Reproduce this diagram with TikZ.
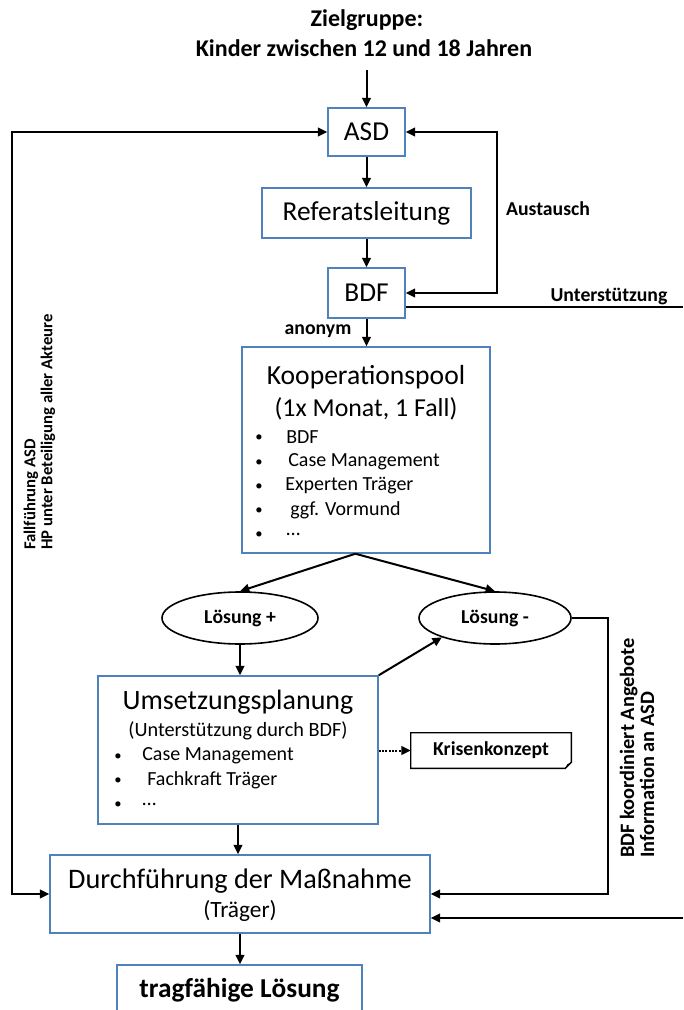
\documentclass[tikz,border=0pt]{standalone}
\usepackage{fontspec}
\setmainfont{Carlito}
\usetikzlibrary{arrows.meta,shapes.geometric}
\definecolor{boxblue}{RGB}{79,129,189}
\begin{document}
\begin{tikzpicture}[x=0.75pt,y=-0.75pt,
  box/.style={draw=boxblue, line width=1.1pt, inner sep=0pt, fill=white},
  ell/.style={ellipse, draw=black, line width=1.2pt, inner sep=0pt},
  tip/.tip={Triangle[length=7pt,width=6.5pt]},
  ln/.style={line width=1.5pt},
  arr/.style={ln, -tip},
  arrtwo/.style={ln, tip-tip},
  lbl/.style={font=\fontsize{14.8}{17}\selectfont\bfseries, inner sep=0pt},
  big/.style={font=\fontsize{20.5}{24}\selectfont},
  itm/.style={font=\fontsize{15}{18}\selectfont, anchor=west, inner sep=0pt},
  dot/.style={font=\fontsize{11}{13}\selectfont, inner sep=0pt},
  side/.style={rotate=90, anchor=west, align=left, inner sep=0pt}
]
\useasboundingbox (0,0) rectangle (683,1010);

% title
\node[font=\fontsize{18}{22}\selectfont\bfseries, inner sep=0pt] (t1) at (367,20) {Zielgruppe:};
\node[font=\fontsize{18}{22}\selectfont\bfseries, inner sep=0pt] (t2) at (364,48) {Kinder zwischen 12 und 18 Jahren};
\coordinate (tarr) at (366.5,70);

% main boxes
\node[box, big, minimum width=57.75pt, minimum height=36pt] (asd) at (366.5,132) {ASD};
\node[box, big, minimum width=156.75pt, minimum height=37.5pt] (ref) at (366.5,213) {Referatsleitung};
\node[box, big, minimum width=57.75pt, minimum height=37.5pt] (bdf) at (366.5,293) {BDF};

\node[box, minimum width=186pt, minimum height=154.5pt] (koop) at (366,450) {};
\node[inner sep=0pt, font=\fontsize{20.7}{24}\selectfont] (kt) at (366,377) {Kooperationspool};
\node[inner sep=0pt, font=\fontsize{19.4}{23}\selectfont] (ks) at (366,409) {(1x Monat, 1 Fall)};
\node[dot] (kb1d) at (259,438) {\textbullet};
\node[itm] (kb1) at (286,437) {BDF};
\node[dot] (kb2d) at (259,463) {\textbullet};
\node[itm] (kb2) at (288,462) {Case Management};
\node[dot] (kb3d) at (259,487) {\textbullet};
\node[itm] (kb3) at (285,486) {Experten Träger};
\node[dot] (kb4d) at (259,511) {\textbullet};
\node[itm] (kb4) at (290,510) {ggf. Vormund};
\node[dot] (kb5d) at (259,535) {\textbullet};
\node[itm] (kb5) at (286,534) {…};

\node[ell, lbl, minimum width=117pt, minimum height=39pt] (lp) at (240,618) {Lösung +};
\node[ell, lbl, minimum width=114pt, minimum height=39pt] (lm) at (495,618) {Lösung -};

\node[box, minimum width=210pt, minimum height=111pt] (ums) at (238,750) {};
\node[inner sep=0pt, font=\fontsize{21}{25}\selectfont] (ut) at (238,702) {Umsetzungsplanung};
\node[inner sep=0pt, font=\fontsize{15.2}{18}\selectfont] (us) at (238,731) {(Unterstützung durch BDF)};
\node[dot] (ub1d) at (118,757) {\textbullet};
\node[itm] (ub1) at (142,756) {Case Management};
\node[dot] (ub2d) at (118,781) {\textbullet};
\node[itm] (ub2) at (147,780) {Fachkraft Träger};
\node[dot] (ub3d) at (118,805) {\textbullet};
\node[itm] (ub3) at (142,804) {…};

\node[lbl, minimum width=120pt, minimum height=26.25pt] (kris) at (491,750.5) {Krisenkonzept};
\draw[line width=1.1pt] (kris.north west) -- (kris.north east) -- ([yshift=4.5pt]kris.south east)
  -- ([xshift=-4.5pt]kris.south east) -- (kris.south west) -- cycle;
\fill ([yshift=4.5pt]kris.south east) -- ([xshift=-4.5pt]kris.south east) -- ([xshift=-3pt,yshift=3pt]kris.south east) -- cycle;

\node[box, minimum width=285pt, minimum height=58.5pt] (durch) at (240,894) {};
\node[inner sep=0pt, font=\fontsize{21.2}{25}\selectfont] (dt) at (240,881) {Durchführung der Maßnahme};
\node[inner sep=0pt, font=\fontsize{17.5}{21}\selectfont] (ds) at (240,911) {(Träger)};

\node[box, minimum width=183.75pt, minimum height=37.5pt, font=\fontsize{20.5}{24}\selectfont\bfseries] (trag) at (239.5,990) {tragfähige Lösung};

% labels
\node[lbl] (aus) at (548,209) {Austausch};
\node[lbl] (unt) at (609,296) {Unterstützung};
\node[lbl] (anon) at (318,331) {anonym};
\node[side, font=\fontsize{12.5}{12.75}\selectfont\bfseries] (lside) at (39.5,550) {Fallführung ASD\\HP unter Beteiligung aller Akteure};
\node[side, font=\fontsize{15.3}{15}\selectfont\bfseries] (rside) at (637,858) {BDF koordiniert Angebote\\Information an ASD};

% connectors
\draw[arr] (tarr) -- (asd.north);
\draw[arr] (asd) -- (ref);
\draw[arr] (ref) -- (bdf);
\coordinate (ausc) at (497,210);
\draw[arrtwo] (asd.east) -| (ausc) |- (bdf.east);
\coordinate (ur) at (683,307);
\draw[ln] (ur) -- (ur -| bdf.east);
\coordinate (ll) at (12,500);
\draw[arrtwo] (asd.west) -| (ll) |- (durch.west);
\draw[arr] (bdf.south) -- (bdf.south |- koop.north);
\coordinate (kbot) at ([xshift=-8pt]koop.south);
\draw[arr] (kbot) -- (lp.north);
\draw[arr] (kbot) -- (lm.north);
\draw[arr] (lp.south) -- (lp.south |- ums.north);
\draw[arr] (ums.north east) -- (lm.200);
\draw[ln, -tip, dash pattern=on 1.5pt off 1pt] (kris.west -| ums.east) -- (kris.west);
\draw[arr] (ums.south) -- (ums.south |- durch.north);
\coordinate (rr) at (608,700);
\draw[arr] (lm.east) -| (rr) |- (durch.east);
\coordinate (br) at (683,918);
\draw[arr] (br) -- (br -| durch.east);
\draw[arr] (durch.south) -- (durch.south |- trag.north);
\end{tikzpicture}
\end{document}
